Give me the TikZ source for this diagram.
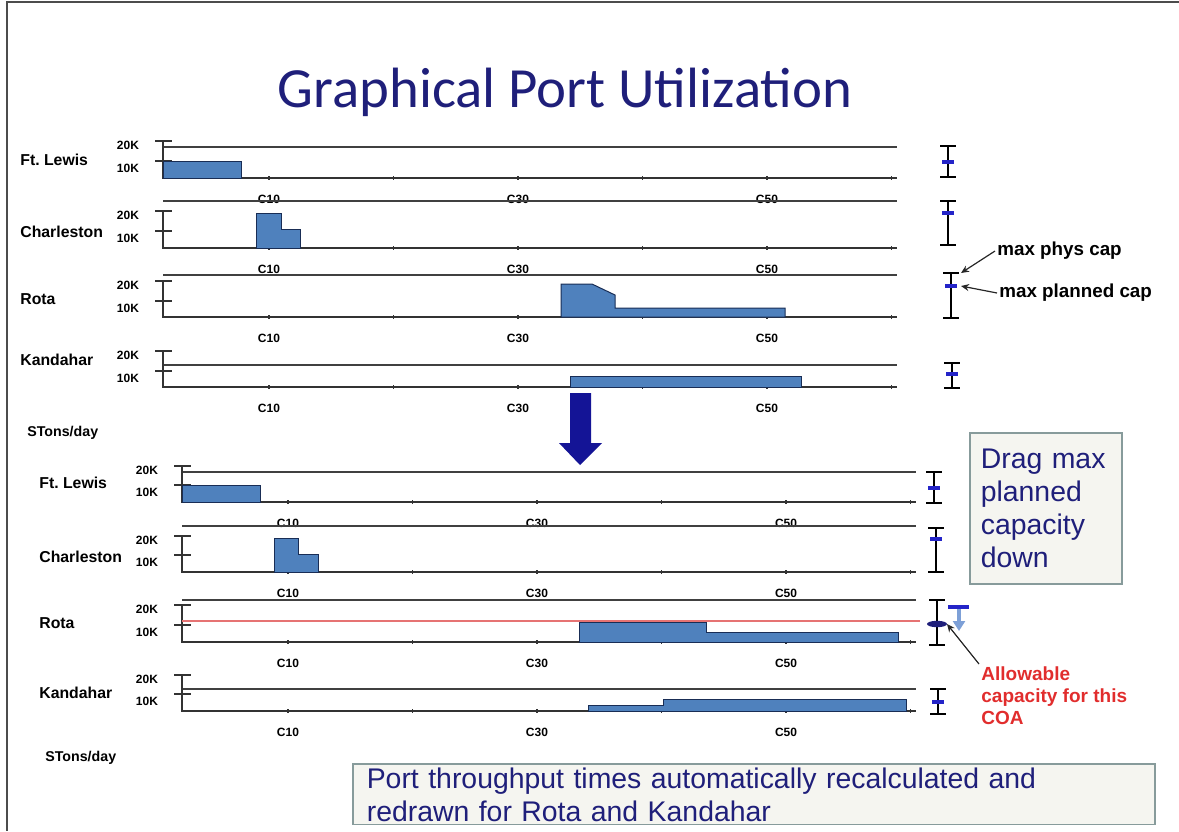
\documentclass[tikz,border=0pt]{standalone}
\usepackage{fontspec}
\setmainfont{Liberation Sans}
\newfontfamily\titlefont{Carlito}
\usetikzlibrary{arrows.meta}
\frenchspacing
\definecolor{navy}{RGB}{31,31,122}
\definecolor{barblue}{RGB}{79,129,189}
\definecolor{baredge}{RGB}{25,45,85}
\definecolor{capblue}{RGB}{36,36,200}
\definecolor{dropblue}{RGB}{20,20,150}
\definecolor{paleblue}{RGB}{125,160,215}
\definecolor{boxfill}{RGB}{245,245,240}
\definecolor{boxedge}{RGB}{135,155,155}
\definecolor{alertred}{RGB}{225,45,45}
\definecolor{limitred}{RGB}{230,115,115}
\tikzset{
  portname/.style={anchor=west, inner sep=0pt, font=\fontsize{7.9}{9}\selectfont\bfseries},
  ticklabel/.style={inner sep=0pt, font=\fontsize{6}{7}\selectfont\bfseries},
  axis/.style={draw=black!80, line width=0.9pt},
  capline/.style={draw=black!75, line width=0.8pt},
  bar/.style={fill=barblue, draw=baredge, line width=0.5pt},
  capstem/.style={draw=black, line width=0.7pt},
  capphys/.style={draw=black, line width=1.4pt},
  capplan/.style={draw=capblue, line width=1.6pt},
  note/.style={anchor=west, inner sep=1pt, font=\fontsize{9.4}{11}\selectfont\bfseries},
  notearrow/.style={draw=black!85, line width=0.6pt, -{Stealth[length=4pt,width=3.5pt]}},
  hintbox/.style={draw=boxedge, fill=boxfill, line width=0.8pt, text=navy,
    align=left, font=\fontsize{14.2}{16.6}\selectfont},
}
% #1 name, #2 port, #3 axis x, #4 label y, #5 20K y, #6 10K y, #7 base y, #8 cap line y
\newcommand{\portchart}[8]{%
  \node[portname] (#1) at ({#3-143},#4) {#2};
  \draw[capline] (#3,#8) -- ({#3+734},#8);
  \draw[axis] (#3,#5) -- (#3,#7) -- ({#3+734},#7);
  \draw[axis] ({#3-8},#5) -- ({#3+9},#5);
  \draw[axis] ({#3-8},#6) -- ({#3+9},#6);
  \node[ticklabel] (#1-20) at ({#3-35},{#5+4}) {20K};
  \node[ticklabel] (#1-10) at ({#3-35},{#6+7}) {10K};
  \foreach \k in {0,...,5}
    \draw[axis, line width=0.6pt] ({#3+106+124.5*\k},{#7-2}) -- ++(0,4);
  \node[ticklabel] (#1-c10) at ({#3+106},{#7+21}) {C10};
  \node[ticklabel] (#1-c30) at ({#3+355},{#7+21}) {C30};
  \node[ticklabel] (#1-c50) at ({#3+604},{#7+21}) {C50};
}
% #1 name, #2 x, #3 phys y, #4 planned y, #5 base y
\newcommand{\capbar}[5]{%
  \draw[capstem] (#2,#3) -- (#2,#5);
  \draw[capstem] ({#2-8},#5) -- ({#2+8},#5);
  \draw[capphys] ({#2-8},#3) -- ({#2+8},#3);
  \draw[capplan] ({#2-6},#4) -- ({#2+6},#4);
  \coordinate (#1-phys) at ({#2+10},#3);
  \coordinate (#1-plan) at ({#2+10},#4);
}

\begin{document}
\begin{tikzpicture}[x=0.5pt, y=-0.5pt]
	\useasboundingbox (0,0) rectangle (1179,831);
	\draw[black!70, line width=1pt] (1179,2) -- (7,2) -- (7,831);

	\node[text=navy, font=\titlefont\fontsize{28.4}{32}\selectfont] (title) at (565,92)
		{Graphical Port Utilization};

	% before
	\portchart{lewis}{Ft. Lewis}{163}{160}{141}{161}{178}{147}
	\portchart{charleston}{Charleston}{163}{232}{211}{231}{248}{201}
	\portchart{rota}{Rota}{163}{299}{281}{301}{317}{275}
	\portchart{kandahar}{Kandahar}{163}{360}{351}{371}{387}{365}
	\fill[bar] (163,161) rectangle (241,178);
	\fill[bar] (256,248) -- (256,213) -- (281,213) -- (281,229)
		-- (300,229) -- (300,248) -- cycle;
	\fill[bar] (561,317) -- (561,284) -- (592,284) -- (615,295)
		-- (615,308) -- (785,308) -- (785,317) -- cycle;
	\fill[bar] (570,376) rectangle (801,387);
	\node[portname, font=\fontsize{7.1}{8}\selectfont\bfseries] (unitsA) at (27,433) {STons/day};

	\capbar{lewisC}{948}{146}{162}{177}
	\capbar{charlestonC}{948}{201}{213}{245}
	\capbar{rotaC}{951}{273}{286}{318}
	\capbar{kandaharC}{952}{363}{374}{388}

	\node[note] (phys) at (995,251) {max phys cap};
	\node[note] (planned) at (997,293) {max planned cap};
	\draw[notearrow] (phys.west) -- (rotaC-phys);
	\draw[notearrow] (planned.west) -- (rotaC-plan);

	% drop arrow
	\fill[dropblue] (570,393) -- (591,393) -- (591,443) -- (602,443)
		-- (580,465) -- (559,443) -- (570,443) -- cycle;

	% after
	\portchart{lewisB}{Ft. Lewis}{182}{483}{466}{485}{502}{472}
	\portchart{charlestonB}{Charleston}{182}{557}{536}{555}{572}{526}
	\portchart{rotaB}{Rota}{182}{623}{605}{625}{642}{600}
	\portchart{kandaharB}{Kandahar}{182}{693}{675}{694}{711}{689}
	\fill[bar] (182,485) rectangle (260,502);
	\fill[bar] (274,572) -- (274,538) -- (298,538) -- (298,554)
		-- (318,554) -- (318,572) -- cycle;
	\fill[bar] (579,642) -- (579,622) -- (706,622) -- (706,632)
		-- (898,632) -- (898,642) -- cycle;
	\fill[bar] (588,711) -- (588,705) -- (663,705) -- (663,699)
		-- (906,699) -- (906,711) -- cycle;
	\draw[limitred, line width=0.7pt] (182,621) -- (920,621);
	\node[portname, font=\fontsize{7.1}{8}\selectfont\bfseries] (unitsB) at (45,758) {STons/day};

	\capbar{lewisD}{934}{472}{488}{503}
	\capbar{charlestonD}{936}{528}{539}{572}
	\capbar{rotaD}{937}{600}{624}{645}
	\capbar{kandaharD}{938}{689}{702}{714}
	\fill[navy] (937,624) ellipse [x radius=5pt, y radius=1.6pt];
	\draw[capplan] (948,607) -- (969,607);
	\coordinate (dragtop) at (959,609);
	\coordinate (dragend) at (959,631);
	\draw[paleblue, line width=1.6pt, -{Triangle[length=5pt,width=6pt]}] (dragtop) -- (dragend);

	\node[hintbox, anchor=north west, text width=65pt, inner xsep=5.5pt,
		minimum height=75.5pt] (drag) at (969,432)
		{Drag max\\planned\\capacity\\down};

	\node[anchor=north west, inner sep=1pt, align=left, text=alertred,
		font=\fontsize{9.5}{11.2}\selectfont\bfseries] (allow) at (979,664)
		{Allowable\\capacity for this\\COA};
	\draw[notearrow] (allow.north west) -- (rotaD-plan);

	\node[hintbox, anchor=north west, text width=387pt, inner xsep=7pt,
		inner ysep=2pt, text depth=16pt] (recalc) at (352,763)
		{Port throughput times automatically recalculated and\\redrawn for Rota and Kandahar};
\end{tikzpicture}
\end{document}
